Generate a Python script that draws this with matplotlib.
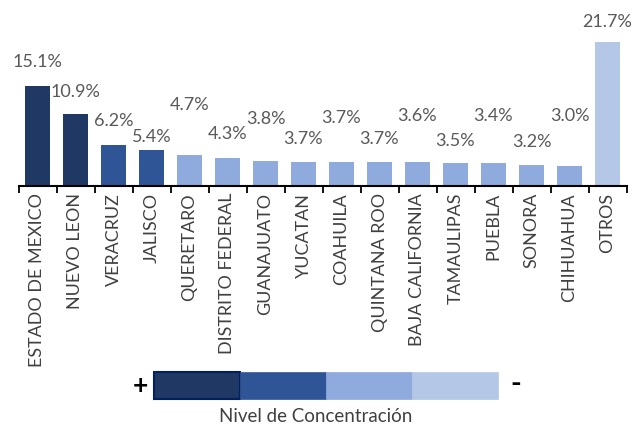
import matplotlib
matplotlib.use("Agg")
import matplotlib.pyplot as plt
from matplotlib.patches import Rectangle

categories = ["ESTADO DE MEXICO", "NUEVO LEON", "VERACRUZ", "JALISCO", "QUERETARO",
              "DISTRITO FEDERAL", "GUANAJUATO", "YUCATAN", "COAHUILA", "QUINTANA ROO",
              "BAJA CALIFORNIA", "TAMAULIPAS", "PUEBLA", "SONORA", "CHIHUAHUA", "OTROS"]
values = [15.1, 10.9, 6.2, 5.4, 4.7, 4.3, 3.8, 3.7, 3.7, 3.7, 3.6, 3.5, 3.4, 3.2, 3.0, 21.7]
levels = [0, 0, 1, 1, 2, 2, 2, 2, 2, 2, 2, 2, 2, 2, 2, 3]
legend_title = "Nivel de Concentración"

level_colors = ["#203864", "#2F5597", "#8FAADC", "#B4C7E7"]
# label offsets above bar tops (points) — styling only
label_offsets = [17, 16, 17, 9.5, 36, 17, 30, 16, 31, 16, 33, 16, 34, 16.5, 36, 15]

plt.rcParams['font.family'] = ['Lato', 'DejaVu Sans']

fig = plt.figure(figsize=(6.33, 4.25), dpi=100)
ax = fig.add_axes([18.5/633, 1-186/425, 608/633, 165.5/425])

x = list(range(len(categories)))
ax.bar(x, values, width=0.66, color=[level_colors[l] for l in levels], zorder=2)
ax.set_xlim(-0.5, len(categories)-0.5)
ax.set_ylim(0, 25)

for xi, v, off in zip(x, values, label_offsets):
    ax.annotate(f"{v:.1f}%", (xi, v), xytext=(0, off), textcoords="offset points",
                ha="center", va="center", fontsize=13, color="#595959")

for s in ["top", "right", "left"]:
    ax.spines[s].set_visible(False)
ax.spines["bottom"].set_linewidth(1.5)
ax.spines["bottom"].set_color("black")
ax.set_yticks([])
ax.set_xticks(x)
ax.set_xticklabels(categories, rotation=90, fontsize=12.9, color="#404040")
ax.tick_params(axis="x", length=0, pad=5)
ax.set_xticks([i - 0.5 for i in range(len(categories)+1)], minor=True)
ax.tick_params(axis="x", which="minor", length=5, width=1.3, color="black", direction="out")

# concentration legend
lax = fig.add_axes([0, 0, 1, 1])
lax.set_xlim(0, 633)
lax.set_ylim(425, 0)
lax.axis("off")
seg_x = [154, 240, 326, 412]
for i, c in enumerate(level_colors):
    ec = "#002060" if i == 0 else c
    lax.add_patch(Rectangle((seg_x[i], 372), 86, 27, facecolor=c, edgecolor=ec,
                            linewidth=1.5 if i == 0 else 0.5))
lax.text(140, 386, "+", ha="center", va="center", fontsize=19, fontweight="bold", color="black")
lax.text(516, 384, "-", ha="center", va="center", fontsize=21, fontweight="bold", color="black")
lax.text(316, 416, legend_title, ha="center", va="center", fontsize=13.5, color="#404040")

fig.savefig("out.png", dpi=100)
